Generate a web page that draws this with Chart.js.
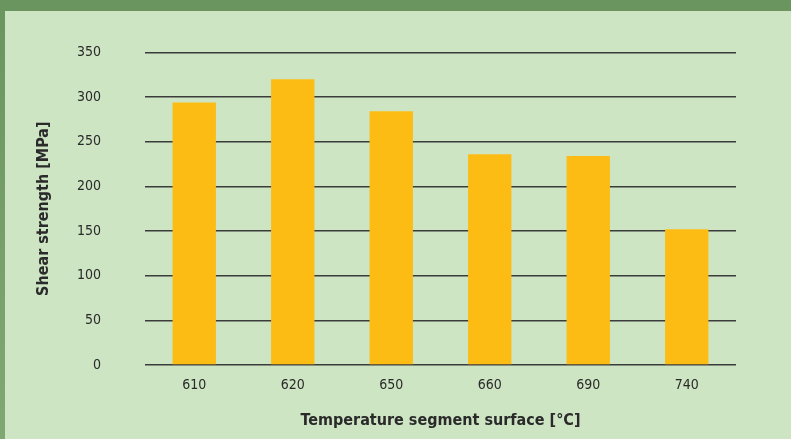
<!DOCTYPE html>
<html>
<head>
<meta charset="UTF-8">
<title></title>
<script src="https://cdn.jsdelivr.net/npm/chart.js@4/dist/chart.umd.min.js"></script>
<style>
*{margin:0;padding:0;}
body{width:791px;height:439px;background:linear-gradient(#6b955e,#7fa872);overflow:hidden;}
#box{position:absolute;left:5px;top:11px;width:786px;height:428px;background:#cde5c3;}
#c{position:absolute;left:0;top:0;}
</style>
</head>
<body>
<div id="box"></div>
<canvas id="c" width="791" height="439"></canvas>
<script>
var categories=["610","620","650","660","690","740"];
var strength=[294,320,284,236,234,152];
var yTicks=[0,50,100,150,200,250,300,350];

var font="'DejaVu Sans Condensed', 'Liberation Sans Narrow', sans-serif";
Chart.defaults.font.family=font;
Chart.defaults.color="#2a2a2a";

new Chart(document.getElementById("c"),{
	type:"bar",
	data:{
		labels:categories,
		datasets:[{
			data:strength,
			backgroundColor:"#fdbc13",
			barPercentage:0.44,
			categoryPercentage:1
		}]
	},
	options:{
		responsive:false,
		animation:false,
		layout:{padding:{left:30,right:55,top:52,bottom:5}},
		plugins:{legend:{display:false},tooltip:{enabled:false}},
		scales:{
			x:{
				grid:{display:false},
				border:{display:false},
				ticks:{font:{size:14},padding:4},
				title:{display:true,text:"Temperature segment surface [°C]",font:{size:16,weight:"bold"}},
				afterFit:function(s){s.height=69;}
			},
			y:{
				min:0,max:350,
				afterBuildTicks:function(s){s.ticks=yTicks.map(function(v){return {value:v};});},
				grid:{color:"#3c3c3c",lineWidth:1.5,drawTicks:false},
				border:{display:false},
				ticks:{font:{size:14},padding:44},
				title:{display:true,text:"Shear strength [MPa]",font:{size:16,weight:"bold"}},
				afterFit:function(s){s.width=115;}
			}
		}
	}
});
</script>
</body>
</html>
